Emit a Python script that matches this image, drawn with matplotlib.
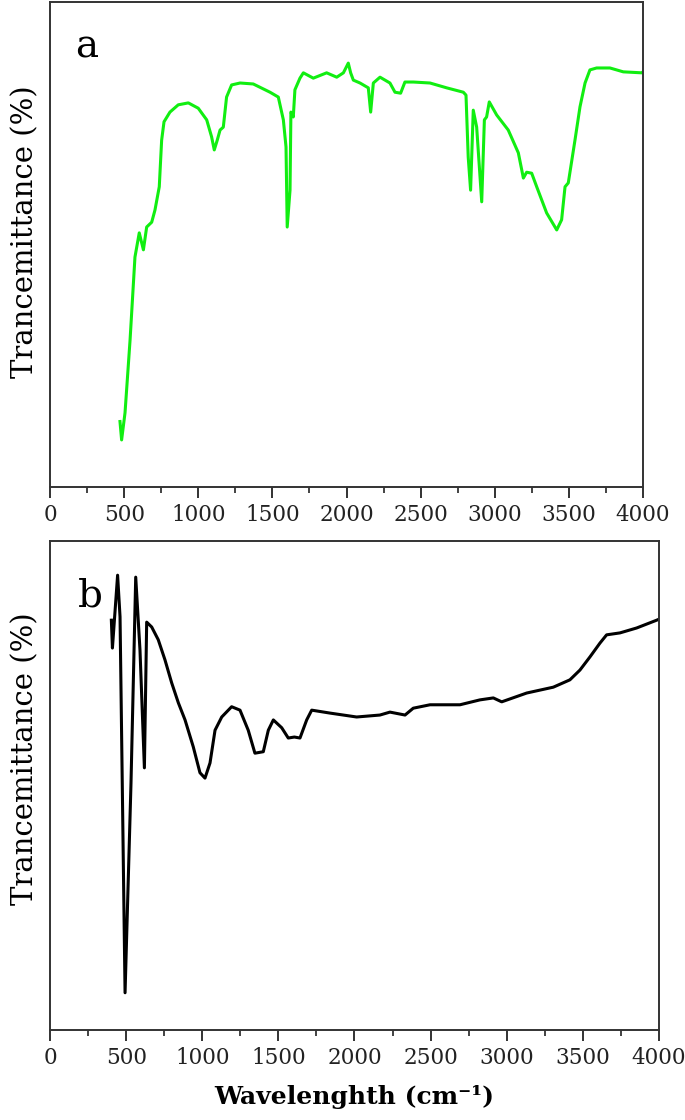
import matplotlib
matplotlib.use("Agg")
import matplotlib.pyplot as plt
from matplotlib.ticker import MultipleLocator

# ---------------------------------------------------
# Spectrum a (green)
# ---------------------------------------------------
wn_a = [472, 483, 506, 540, 573, 602, 630, 652, 686, 708, 737, 753, 769, 809,
        865, 933, 1000, 1057, 1090, 1108, 1128, 1147, 1169, 1191, 1225, 1282,
        1371, 1484, 1540, 1574, 1592, 1600, 1619, 1625, 1641, 1652, 1686, 1709,
        1776, 1866, 1934, 1979, 2012, 2028, 2046, 2091, 2147, 2163, 2181, 2226,
        2293, 2327, 2365, 2394, 2451, 2563, 2676, 2788, 2806, 2821, 2837, 2855,
        2878, 2912, 2930, 2945, 2963, 3013, 3091, 3159, 3193, 3215, 3249, 3283,
        3350, 3418, 3451, 3474, 3496, 3541, 3575, 3609, 3642, 3687, 3777, 3867,
        3991, 4000]
tr_a = [13.5, 9.7, 15.3, 30.3, 47.4, 52.4, 48.9, 53.6, 54.6, 57.1, 61.9, 71.5,
        75.3, 77.3, 78.8, 79.2, 78.1, 75.7, 72.2, 69.5, 71.5, 73.6, 74.2, 80.4,
        82.9, 83.3, 83.1, 81.4, 80.4, 75.7, 70.1, 53.6, 61.2, 77.3, 76.3, 81.9,
        84.3, 85.4, 84.3, 85.4, 84.5, 85.4, 87.4, 85.4, 83.9, 83.3, 82.3, 77.3,
        83.3, 84.5, 83.3, 81.4, 81.2, 83.5, 83.5, 83.3, 82.3, 81.4, 80.8, 68.0,
        61.2, 77.7, 74.2, 58.8, 75.7, 76.3, 79.4, 76.7, 73.6, 68.9, 63.7, 64.9,
        64.7, 61.9, 56.5, 53.0, 55.1, 61.9, 62.7, 71.5, 78.4, 83.3, 86.0, 86.4,
        86.4, 85.6, 85.4, 85.6]

# ---------------------------------------------------
# Spectrum b (black)
# ---------------------------------------------------
wn_b = [403, 410, 444, 460, 493, 532, 563, 591, 620, 635, 668, 711, 755, 799,
        843, 887, 941, 985, 1018, 1051, 1084, 1128, 1193, 1248, 1302, 1346,
        1401, 1434, 1467, 1522, 1565, 1605, 1642, 1686, 1719, 1839, 2014, 2167,
        2233, 2332, 2386, 2496, 2606, 2693, 2824, 2912, 2967, 3131, 3306, 3415,
        3481, 3547, 3612, 3656, 3744, 3853, 3985, 4000]
tr_b = [83.8, 78.1, 93.0, 84.5, 7.6, 50.5, 92.6, 77.7, 53.6, 83.4, 82.4, 79.8,
        75.7, 71.0, 66.9, 63.4, 57.9, 52.6, 51.5, 54.6, 61.3, 64.0, 66.1, 65.4,
        61.3, 56.6, 56.9, 61.3, 63.4, 61.8, 59.7, 59.9, 59.7, 63.4, 65.4, 64.8,
        64.0, 64.4, 65.0, 64.4, 65.8, 66.5, 66.5, 66.5, 67.5, 67.9, 67.1, 68.9,
        70.1, 71.6, 73.6, 76.3, 79.1, 80.8, 81.2, 82.2, 83.8, 84.0]

x_ticks = [0, 500, 1000, 1500, 2000, 2500, 3000, 3500, 4000]

plt.rcParams["font.family"] = ["DejaVu Serif"]

fig = plt.figure(figsize=(6.85, 11.2), dpi=100)
ax_a = fig.add_axes([0.073, 0.5652, 0.8657, 0.433])
ax_b = fig.add_axes([0.073, 0.0804, 0.889, 0.4366])


def style_axis(ax, label_y):
    ax.set_xlim(0, 4000)
    ax.set_ylim(0, 100)
    ax.set_xticks(x_ticks)
    ax.xaxis.set_minor_locator(MultipleLocator(250))
    ax.set_yticks([])
    ax.tick_params(axis="x", which="major", direction="out", length=8,
                   width=1.3, labelsize=15.5, pad=4, colors="#222222")
    ax.tick_params(axis="x", which="minor", direction="out", length=4,
                   width=1.2, colors="#222222")
    for sp in ax.spines.values():
        sp.set_linewidth(1.4)
        sp.set_color("#333333")
    ax.set_ylabel("Trancemittance (%)", fontsize=21)
    ax.yaxis.set_label_coords(-0.018, label_y)


ax_a.plot(wn_a, tr_a, color="#11ee11", linewidth=2.2)
style_axis(ax_a, 0.526)
ax_a.text(0.042, 0.945, "a", transform=ax_a.transAxes, fontsize=28,
          ha="left", va="top")

ax_b.plot(wn_b, tr_b, color="black", linewidth=2.2)
style_axis(ax_b, 0.554)
ax_b.text(0.045, 0.925, "b", transform=ax_b.transAxes, fontsize=28,
          ha="left", va="top")
ax_b.set_xlabel("Wavelenghth (cm\u207b\u00b9)", fontsize=18, fontweight="bold",
                labelpad=12)

fig.savefig("out.png", dpi=100)
